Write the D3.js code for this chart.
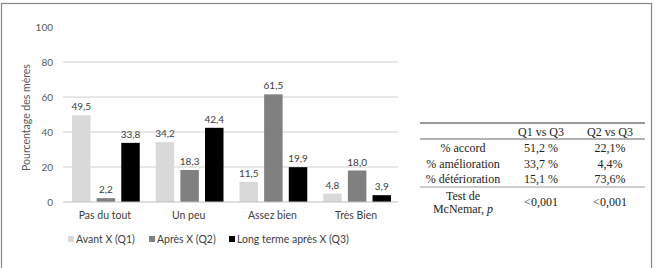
<!DOCTYPE html>
<html>
<head>
<meta charset="utf-8">
<script src="https://cdn.jsdelivr.net/npm/d3@7"></script>
<style>
  body { margin: 0; background: #fff; }
  svg { display: block; }
</style>
</head>
<body>
<svg id="chart" width="655" height="268"></svg>
<script>
const categories = ['Pas du tout', 'Un peu', 'Assez bien', 'Très Bien']
const seriesNames = ['Avant X (Q1)', 'Après X (Q2)', 'Long terme après X (Q3)']
const q1 = [49.5, 34.2, 11.5, 4.8]
const q2 = [2.2, 18.3, 61.5, 18.0]
const q3 = [33.8, 42.4, 19.9, 3.9]
const yTicks = [0, 20, 40, 60, 80, 100]

const tableHeader = ['', 'Q1 vs Q3', 'Q2 vs Q3']
const rowLabels = ['% accord', '% amélioration', '% détérioration']
const colQ1 = ['51,2 %', '33,7 %', '15,1 %']
const colQ2 = ['22,1%', '4,4%', '73,6%']
const pValues = ['<0,001', '<0,001']

const colors = ['#d9d9d9', '#808080', '#000000']
const font = 'Lato, "Open Sans", sans-serif'
const serif = '"Liberation Serif", "DejaVu Serif", serif'

const svg = d3.select('#chart')
const margin = { left: 63, right: 257, top: 27, bottom: 66 }
const width = 655, height = 268

// outer frame
svg.append('rect')
    .attr('x', 1.5).attr('y', 3.5)
    .attr('width', 650).attr('height', 270)
    .attr('fill', 'none')
    .attr('stroke', '#888')
    .attr('stroke-width', 1.2)

const x = d3.scaleBand()
    .domain(categories)
    .range([margin.left, width - margin.right])

const x1 = d3.scaleBand()
    .domain(seriesNames)
    .range([9, x.bandwidth() - 7])
    .paddingInner(0.25)

const y = d3.scaleLinear()
    .domain([0, 100])
    .range([height - margin.bottom, margin.top])

// gridlines
svg.append('g')
    .selectAll('line')
    .data(yTicks.filter(t => t > 0 && t < 100))
    .enter()
    .append('line')
    .attr('x1', margin.left).attr('x2', width - margin.right)
    .attr('y1', d => y(d)).attr('y2', d => y(d))
    .attr('stroke', '#d0d0d0')
    .attr('stroke-width', 1)

// y axis labels
const yAxis = svg.append('g')
    .attr('transform', `translate(${margin.left},0)`)
    .call(d3.axisLeft(y).tickValues(yTicks).tickSize(0).tickPadding(10))
yAxis.select('.domain').remove()
yAxis.selectAll('text')
    .attr('font-family', font)
    .attr('font-size', 10)
    .attr('fill', '#595959')

svg.append('text')
    .attr('transform', `translate(30,${y(50) + 3}) rotate(-90)`)
    .attr('text-anchor', 'middle')
    .attr('font-family', font)
    .attr('font-size', 10.5)
    .attr('fill', '#595959')
    .text('Pourcentage des mères')

// bars
const rows = categories.map((c, i) => ({ cat: c, vals: [q1[i], q2[i], q3[i]] }))
const groups = svg.append('g')
    .selectAll('g')
    .data(rows)
    .enter()
    .append('g')
    .attr('transform', d => `translate(${x(d.cat)},0)`)

groups.selectAll('rect')
    .data(d => d.vals.map((v, j) => ({ v: v, s: seriesNames[j], j: j })))
    .enter()
    .append('rect')
    .attr('x', d => x1(d.s))
    .attr('y', d => y(d.v))
    .attr('width', x1.bandwidth())
    .attr('height', d => y(0) - y(d.v))
    .attr('fill', d => colors[d.j])

groups.selectAll('text')
    .data(d => d.vals.map((v, j) => ({ v: v, s: seriesNames[j] })))
    .enter()
    .append('text')
    .attr('x', d => x1(d.s) + x1.bandwidth() / 2)
    .attr('y', d => y(d.v) - 5)
    .attr('text-anchor', 'middle')
    .attr('font-family', font)
    .attr('font-size', 10)
    .attr('fill', '#404040')
    .text(d => d.v.toFixed(1).replace('.', ','))

// baseline
svg.append('line')
    .attr('x1', margin.left).attr('x2', width - margin.right)
    .attr('y1', y(0)).attr('y2', y(0))
    .attr('stroke', '#bfbfbf')

// category labels
const xAxis = svg.append('g')
    .attr('transform', `translate(0,${y(0)})`)
    .call(d3.axisBottom(x).tickSize(0).tickPadding(10))
xAxis.select('.domain').remove()
xAxis.selectAll('text')
    .attr('font-family', font)
    .attr('font-size', 10.5)
    .attr('fill', '#404040')

// legend
const legendX = [68, 149, 229]
const legend = svg.append('g')
    .selectAll('g')
    .data(seriesNames)
    .enter()
    .append('g')
    .attr('transform', (d, i) => `translate(${legendX[i]},240)`)
legend.append('rect')
    .attr('x', 0).attr('y', -4)
    .attr('width', 6).attr('height', 6)
    .attr('fill', (d, i) => colors[i])
legend.append('text')
    .attr('x', 8).attr('y', 3)
    .attr('font-family', font)
    .attr('font-size', 10.5)
    .attr('fill', '#404040')
    .text(d => d)

// table
const colX = [463, 541, 610]
const table = svg.append('g')
table.append('line')
    .attr('x1', 420).attr('x2', 645).attr('y1', 123).attr('y2', 123)
    .attr('stroke', '#333').attr('stroke-width', 1)
table.append('line')
    .attr('x1', 420).attr('x2', 645).attr('y1', 139).attr('y2', 139)
    .attr('stroke', '#999').attr('stroke-width', 1.5)
table.append('line')
    .attr('x1', 420).attr('x2', 645).attr('y1', 187).attr('y2', 187)
    .attr('stroke', '#999').attr('stroke-width', 1)

function cell(tx, ty, t) {
    return table.append('text')
        .attr('x', tx).attr('y', ty)
        .attr('text-anchor', 'middle')
        .attr('font-family', serif)
        .attr('font-size', 12)
        .attr('fill', '#222')
        .text(t)
}

tableHeader.forEach((h, i) => cell(colX[i], 136, h))
rowLabels.forEach((r, i) => {
    const ty = 152 + i * 15.5
    cell(colX[0], ty, r)
    cell(colX[1], ty, colQ1[i])
    cell(colX[2], ty, colQ2[i])
})
cell(colX[0], 200, 'Test de')
const mc = cell(colX[0], 213, 'McNemar, ')
mc.append('tspan').attr('font-style', 'italic').text('p')
pValues.forEach((p, i) => cell(colX[i + 1], 206, p))
</script>
</body>
</html>
